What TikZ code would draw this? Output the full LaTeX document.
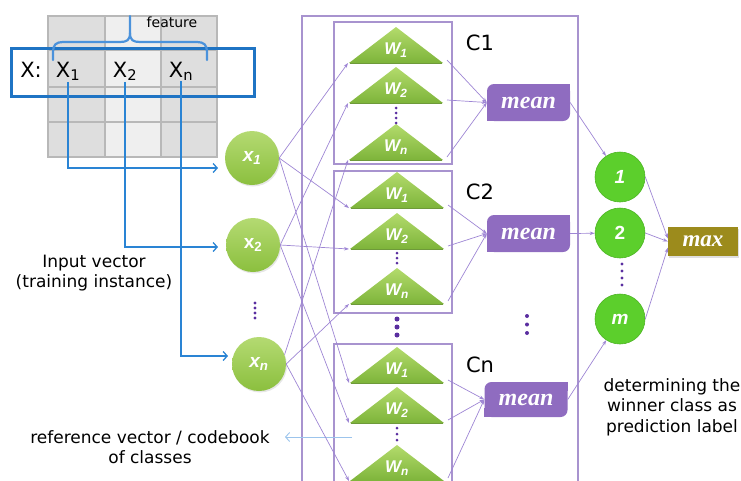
\documentclass[tikz,border=0pt]{standalone}
\usepackage{fontspec}
\setmainfont{DejaVu Sans}
\newfontfamily\lsans{Liberation Sans}
\newfontfamily\lserif{Liberation Serif}
\usetikzlibrary{arrows.meta,shadows,backgrounds}
\definecolor{lineP}{HTML}{9E86D4}
\definecolor{boxP}{HTML}{A893CF}
\definecolor{dotP}{HTML}{5A2EA0}
\definecolor{meanP}{HTML}{8F6CC0}
\definecolor{maxO}{HTML}{9C8B1C}
\definecolor{tTop}{HTML}{B3DB6C}
\definecolor{tBot}{HTML}{7DB43A}
\definecolor{tSh}{HTML}{6E9A3A}
\definecolor{xTop}{HTML}{B4DA72}
\definecolor{xBot}{HTML}{8BBF3E}
\definecolor{cG}{HTML}{5CCF2C}
\definecolor{cGd}{HTML}{4DB424}
\definecolor{blueB}{HTML}{1F74C4}
\definecolor{blueL}{HTML}{2A84D4}
\definecolor{blueBr}{HTML}{4B92DB}
\definecolor{blueRef}{HTML}{9CC4EC}
\definecolor{gDark}{HTML}{DEDEDE}
\definecolor{gLight}{HTML}{EFEFEF}
\definecolor{gLine}{HTML}{B8B8B8}
\newcommand\wtri[4]{%
  \shade[top color=tTop,bottom color=tBot] (#2-47,#3) -- (#2,#3-36) -- (#2+47,#3) -- cycle;
  \draw[tSh,line width=1pt] (#2-46,#3+0.7) -- (#2+46,#3+0.7);
  \node[wlab] (#1) at (#2,#3-13) {#4};
  \coordinate (#1l) at (#2-48,#3);
  \coordinate (#1r) at (#2+51,#3-3);
}
\begin{document}
\begin{tikzpicture}[x=1pt,y=-1pt,
  pl/.style={draw=lineP,line width=0.7pt,-{Stealth[length=5pt,width=3.5pt]}},
  bl/.style={draw=blueL,line width=1.3pt,-{Straight Barb[length=4pt,width=9pt]}},
  wlab/.style={text=white,inner sep=0pt,font=\lsans\bfseries\itshape\fontsize{17}{17}\selectfont},
  xnode/.style={circle,minimum size=54pt,inner sep=0pt,top color=xTop,bottom color=xBot,
    text=white,font=\lsans\bfseries\fontsize{19}{19}\selectfont,
    drop shadow={opacity=0.2,shadow xshift=1pt,shadow yshift=-1.5pt}},
  cnode/.style={circle,minimum size=50pt,inner sep=0pt,fill=cG,draw=cGd,line width=0.6pt,
    text=white,font=\lsans\bfseries\fontsize{19}{19}\selectfont},
  meanbox/.style={fill=meanP,rounded corners=7pt,minimum width=83pt,minimum height=37pt,inner sep=0pt,
    text=white,font=\lserif\bfseries\itshape\fontsize{24}{24}\selectfont},
  maxbox/.style={fill=maxO,minimum width=70pt,minimum height=29pt,inner sep=0pt,
    text=white,font=\lserif\bfseries\itshape\fontsize{23}{23}\selectfont,
    drop shadow={opacity=0.25,shadow xshift=1pt,shadow yshift=-1.5pt}},
  lab/.style={align=center,inner sep=0pt,font=\fontsize{17}{20.5}\selectfont},
  clab/.style={inner sep=0pt,font=\fontsize{21}{21}\selectfont},
  xlab/.style={inner sep=1pt,anchor=base,font=\fontsize{21}{21}\selectfont},
  boxline/.style={draw=boxP,line width=1.1pt}
]
\useasboundingbox (0,0) rectangle (741,480);
% ---- data grid ----
\fill[gDark] (48,16) rectangle (105,157);
\fill[gLight] (105,16) rectangle (161,157);
\fill[gDark] (161,16) rectangle (217,157);
\draw[gLine,line width=1.3pt] (48,16) rectangle (217,157);
\draw[gLine,line width=1.3pt] (105,16) -- (105,157) (161,16) -- (161,157)
  (48,50) -- (217,50) (48,87) -- (217,87) (48,122) -- (217,122);
\draw[blueB,line width=3pt] (11,48) rectangle (254,96);
% brace
\draw[blueBr,line width=2.2pt,line cap=round]
  (53,60) -- (53,52) .. controls (53,45) and (56,42) .. (63,42) -- (120,42)
  .. controls (127,42) and (130,40) .. (130,33) -- (130,16);
\draw[blueBr,line width=2.2pt,line cap=round]
  (130,33) .. controls (130,40) and (133,42) .. (140,42) -- (197,42)
  .. controls (204,42) and (207,45) .. (207,52) -- (207,60);
\node[inner sep=0pt,font=\fontsize{14}{14}\selectfont] (feat) at (172,22) {feature};
\node[xlab] (Xc) at (31,77) {X:};
\node[xlab] (X1) at (68,77) {X\textsubscript{1}};
\node[xlab] (X2) at (125,77) {X\textsubscript{2}};
\node[xlab] (Xn) at (181,77) {X\textsubscript{n}};
% ---- input nodes ----
\node[xnode] (x1) at (252,158) {\itshape x\textsubscript{1}};
\node[xnode] (x2) at (253,245) {x\textsubscript{2}};
\node[xnode] (xn) at (259,364) {\itshape x\textsubscript{n}};
\foreach \yy in {303,308,313,318} {\fill[dotP] (255,\yy) circle (1.6);}
\coordinate (a1) at (218,168);
\coordinate (a2) at (218,247);
\coordinate (an) at (228,356);
\draw[bl] (X1.south) |- (a1);
\draw[bl] (X2.south) |- (a2);
\draw[bl] (Xn.south) |- (an);
\node[lab] (inp) at (94,273) {Input vector\\(training instance)};
% ---- class boxes ----
\draw[boxline] (302,16) rectangle (578,500);
\draw[boxline] (334,22) rectangle (452,164);
\draw[boxline] (334,171) rectangle (452,313);
\draw[boxline] (334,344) rectangle (452,500);
\wtri{c1w1}{396}{63}{W\textsubscript{1}}
\wtri{c1w2}{396}{103}{W\textsubscript{2}}
\wtri{c1wn}{396}{160}{W\textsubscript{n}}
\wtri{c2w1}{397}{208}{W\textsubscript{1}}
\wtri{c2w2}{397}{249}{W\textsubscript{2}}
\wtri{c2wn}{397}{304}{W\textsubscript{n}}
\wtri{cnw1}{397}{383}{W\textsubscript{1}}
\wtri{cnw2}{397}{423}{W\textsubscript{2}}
\wtri{cnwn}{397}{481}{W\textsubscript{n}}
\foreach \yy in {108,113,118,123} {\fill[dotP] (396,\yy) circle (1.5);}
\foreach \yy in {253,258,263} {\fill[dotP] (397,\yy) circle (1.5);}
\foreach \yy in {428,434,440} {\fill[dotP] (397,\yy) circle (1.5);}
\foreach \yy in {319,327,335} {\fill[dotP] (397,\yy) circle (2.5);}
\node[clab] (C1) at (480,43) {C1};
\node[clab] (C2) at (480,192) {C2};
\node[clab] (Cn) at (480,365) {Cn};
% ---- mean boxes ----
\node[meanbox] (m1) at (528.5,102.5) {mean};
\node[meanbox] (m2) at (528.5,233.5) {mean};
\node[meanbox,minimum height=35pt] (mn) at (526,399.5) {mean};
\begin{scope}[on background layer]
  \foreach \m in {m1,m2,mn} {
    \fill[meanP] (\m.north east) rectangle ++(-9,9);
    \fill[meanP] (\m.south west) rectangle ++(9,-9);
  }
\end{scope}
\foreach \yy in {316,324.5,333} {\fill[dotP] (527,\yy) circle (2);}
% ---- class output nodes ----
\node[cnode] (k1) at (620,177) {\itshape 1};
\node[cnode] (k2) at (620,233) {2};
\node[cnode] (km) at (620,319) {\itshape m};
\foreach \yy in {264,271,278,285} {\fill[dotP] (622,\yy) circle (1.7);}
\node[maxbox] (mx) at (703,241.5) {max};
\node[lab] (det) at (672,407) {determining the\\winner class as\\prediction label};
% ---- reference label ----
\node[lab] (ref) at (150,447) {reference vector / codebook\\of classes};
\coordinate (rs) at (352,437);
\coordinate (re) at (285,437);
\draw[draw=blueRef,line width=0.9pt,-{Straight Barb[length=4pt,width=9pt]}] (rs) -- (re);
% ---- connections inputs -> prototypes ----
\draw[pl] (x1.east) -- (c1w1l);
\draw[pl] (x1.east) -- (c2w1l);
\draw[pl] (x1.east) -- (cnw1l);
\draw[pl] (x2.east) -- (c1w2l);
\draw[pl] (x2.east) -- (c2w2l);
\draw[pl] (x2.east) -- (cnw2l);
\draw[pl] (xn.20) -- (c1wnl);
\draw[pl] (xn.east) -- (c2wnl);
\draw[pl] (xn.east) -- (cnwnl);
% ---- prototypes -> mean ----
\foreach \c/\m in {c1/m1,c2/m2,cn/mn} {
  \draw[pl] (\c w1r) -- (\m.west);
  \draw[pl] (\c w2r) -- (\m.west);
  \draw[pl] (\c wnr) -- (\m.west);
}
% ---- mean -> classes -> max ----
\draw[pl] (m1.east) -- (k1);
\draw[pl] (m2.east) -- (k2);
\draw[pl] (mn.east) -- (km);
\draw[pl] (k1.east) -- (mx.175);
\draw[pl] (k2.east) -- (mx.west);
\draw[pl] (km.east) -- (mx.190);
\end{tikzpicture}
\end{document}
